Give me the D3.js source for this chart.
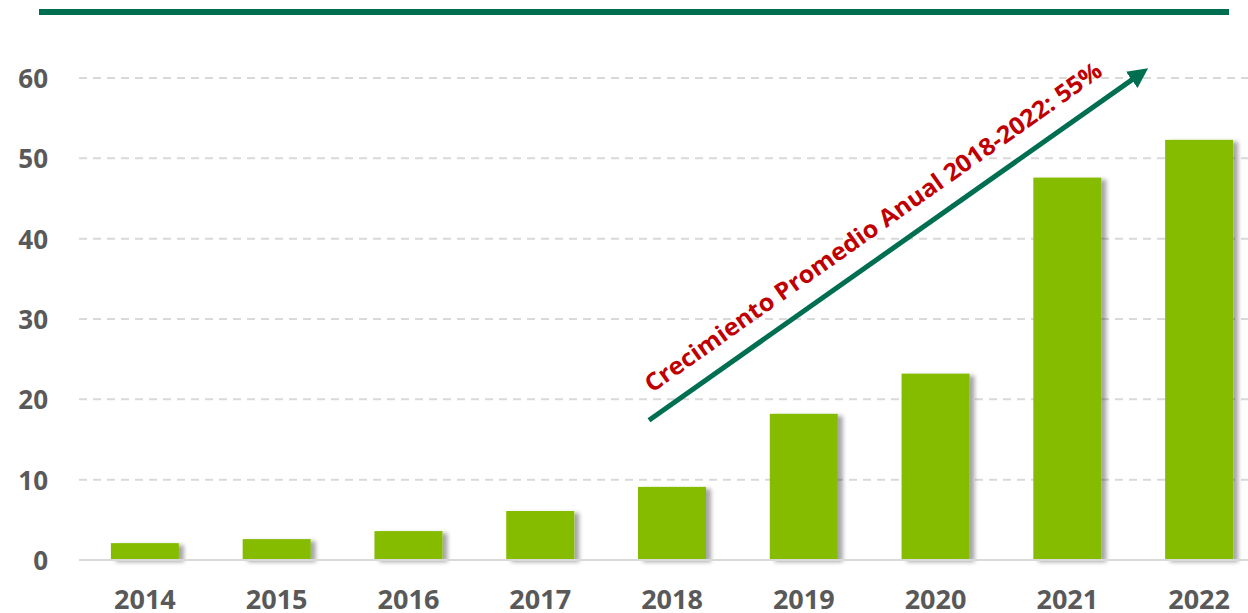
<!DOCTYPE html>
<html>
<head>
<meta charset="utf-8">
<script src="https://cdn.jsdelivr.net/npm/d3@7"></script>
<style>
  body { margin: 0; background: #fff; }
  svg { display: block; }
</style>
</head>
<body>
<div id="chart"></div>
<script>
// data
var years = ["2014", "2015", "2016", "2017", "2018", "2019", "2020", "2021", "2022"];
var values = [2.1, 2.6, 3.6, 6.1, 9.1, 18.2, 23.2, 47.6, 52.3];
var yTicks = [0, 10, 20, 30, 40, 50, 60];
var trendLabel = "Crecimiento Promedio Anual 2018-2022: 55%";
var trendFrom = ["2018", 17.4];
var trendTo = ["2022", 61.2];

var w = 1248, h = 613;
var green = "#006e51", barColor = "#86bc00", labelColor = "#595959";

var svg = d3.select("#chart").append("svg")
    .attr("width", w).attr("height", h);

var defs = svg.append("defs");
var shadow = defs.append("filter").attr("id", "shadow")
    .attr("x", "-20%").attr("y", "-20%").attr("width", "150%").attr("height", "150%");
shadow.append("feDropShadow")
    .attr("dx", 5).attr("dy", 2).attr("stdDeviation", 2)
    .attr("flood-color", "#000").attr("flood-opacity", 0.35);

var marker = defs.append("marker").attr("id", "arrow")
    .attr("viewBox", "0 0 10 10").attr("refX", 5).attr("refY", 5)
    .attr("markerWidth", 4).attr("markerHeight", 4)
    .attr("markerUnits", "strokeWidth")
    .attr("orient", "auto");
marker.append("path").attr("d", "M0,0 L10,5 L0,10 Z").attr("fill", green);

// scales
var x = d3.scaleBand().domain(years).range([79, 1265]).paddingInner(0.484).paddingOuter(0.242);
var y = d3.scaleLinear().domain([0, 60]).range([560, 78]);

// top rule
svg.append("rect").attr("x", 39).attr("y", 9).attr("width", 1190).attr("height", 6).attr("fill", green);

// grid lines
svg.append("g").selectAll("line").data(yTicks.filter(function (d) { return d > 0; }))
    .enter().append("line")
    .attr("x1", 79).attr("x2", w)
    .attr("y1", function (d) { return y(d); })
    .attr("y2", function (d) { return y(d); })
    .attr("stroke", "#d9d9d9").attr("stroke-width", 2)
    .attr("stroke-dasharray", "8,6");

// y axis
var yAxis = d3.axisLeft(y).tickValues(yTicks).tickSize(0).tickPadding(0);
var gy = svg.append("g").attr("transform", "translate(48,0)").call(yAxis);
gy.select(".domain").remove();
gy.selectAll("text")
    .attr("fill", labelColor)
    .attr("font-family", "'Open Sans', sans-serif")
    .attr("font-weight", "bold")
    .attr("font-size", "26px")
    .attr("dy", "0.36em");

// bars
svg.append("g").selectAll("rect").data(values).enter().append("rect")
    .attr("x", function (d, i) { return x(years[i]); })
    .attr("y", function (d) { return y(d); })
    .attr("width", x.bandwidth())
    .attr("height", function (d) { return y(0) - y(d); })
    .attr("fill", barColor)
    .attr("filter", "url(#shadow)");

// baseline
svg.append("line").attr("x1", 79).attr("x2", w)
    .attr("y1", y(0)).attr("y2", y(0))
    .attr("stroke", "#d9d9d9").attr("stroke-width", 2);

// x axis
var xAxis = d3.axisBottom(x).tickSize(0).tickPadding(0);
var gx = svg.append("g").attr("transform", "translate(0," + 609 + ")").call(xAxis);
gx.select(".domain").remove();
gx.selectAll("text")
    .attr("fill", labelColor)
    .attr("font-family", "'Open Sans', sans-serif")
    .attr("font-weight", "bold")
    .attr("font-size", "27px")
    .attr("dy", "0");

// trend arrow
var x1 = x(trendFrom[0]) + 11, y1 = y(trendFrom[1]);
var x2 = x(trendTo[0]) - 17, y2 = y(trendTo[1]);
var ang = Math.atan2(y2 - y1, x2 - x1);
svg.append("line")
    .attr("x1", x1).attr("y1", y1)
    .attr("x2", x2 - 10 * Math.cos(ang)).attr("y2", y2 - 10 * Math.sin(ang))
    .attr("stroke", green).attr("stroke-width", 5)
    .attr("marker-end", "url(#arrow)");

svg.append("text")
    .attr("transform", "translate(" + (x1 + 3) + "," + (y1 - 27) + ") rotate(" + (ang * 180 / Math.PI) + ")")
    .attr("fill", "#c00000")
    .attr("font-family", "'Open Sans', sans-serif")
    .attr("font-weight", "bold")
    .attr("font-size", "24px")
    .attr("textLength", 553)
    .attr("lengthAdjust", "spacingAndGlyphs")
    .text(trendLabel);
</script>
</body>
</html>
